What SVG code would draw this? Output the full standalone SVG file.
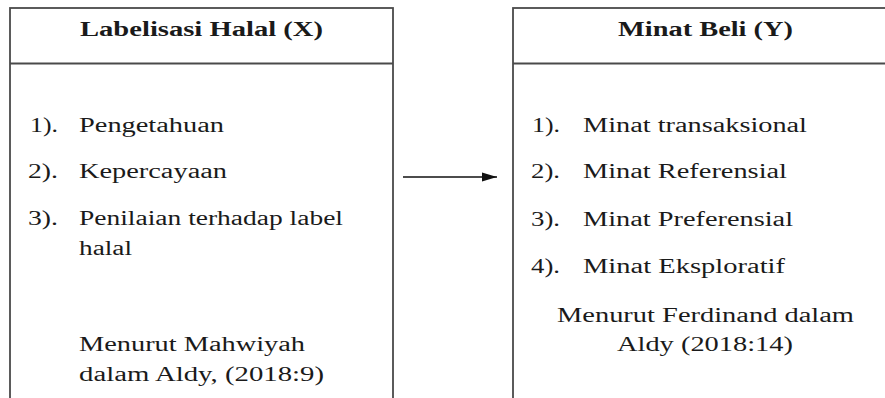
<svg xmlns="http://www.w3.org/2000/svg" width="885" height="398" viewBox="0 0 885 398">
  <style>
    .box { fill: #ffffff; stroke: #4a4a4a; stroke-width: 1.8; }
    .div { stroke: #4a4a4a; stroke-width: 1.8; }
    text { font-family: "Liberation Serif", "Times New Roman", serif; font-size: 20px; fill: #1a1a1a; }
    .title { font-weight: bold; text-anchor: middle; }
    .mid { text-anchor: middle; }
    .conn { stroke: #111111; stroke-width: 1.5; fill: none; }
  </style>
  <defs>
    <marker id="arrow" markerWidth="16" markerHeight="10" refX="15" refY="5" orient="auto" markerUnits="userSpaceOnUse">
      <path d="M0,0.5 L15,5 L0,9.5 Z" fill="#111111"/>
    </marker>
  </defs>
  <rect width="885" height="398" fill="#ffffff"/>

  <g id="node-labelisasi-halal">
    <rect class="box" x="10" y="8" width="383" height="420"/>
    <line class="div" x1="10" y1="63.5" x2="393" y2="63.5"/>
    <text class="title" x="201.5" y="36" textLength="243" lengthAdjust="spacingAndGlyphs">Labelisasi Halal (X)</text>
    <text x="30" y="132" textLength="28" lengthAdjust="spacingAndGlyphs">1).</text>
    <text x="79" y="132" textLength="145" lengthAdjust="spacingAndGlyphs">Pengetahuan</text>
    <text x="28" y="178" textLength="30" lengthAdjust="spacingAndGlyphs">2).</text>
    <text x="79" y="178" textLength="148" lengthAdjust="spacingAndGlyphs">Kepercayaan</text>
    <text x="28" y="225" textLength="30" lengthAdjust="spacingAndGlyphs">3).</text>
    <text x="79" y="225" textLength="264" lengthAdjust="spacingAndGlyphs">Penilaian terhadap label</text>
    <text x="79" y="255" textLength="53" lengthAdjust="spacingAndGlyphs">halal</text>
    <text x="79" y="351" textLength="226" lengthAdjust="spacingAndGlyphs">Menurut Mahwiyah</text>
    <text x="79" y="381" textLength="245" lengthAdjust="spacingAndGlyphs">dalam Aldy, (2018:9)</text>
  </g>

  <g id="node-minat-beli">
    <rect class="box" x="513" y="8" width="385" height="420"/>
    <line class="div" x1="513" y1="63.5" x2="898" y2="63.5"/>
    <text class="title" x="705.5" y="36" textLength="175" lengthAdjust="spacingAndGlyphs">Minat Beli (Y)</text>
    <text x="532" y="132" textLength="28" lengthAdjust="spacingAndGlyphs">1).</text>
    <text x="583" y="132" textLength="224" lengthAdjust="spacingAndGlyphs">Minat transaksional</text>
    <text x="531" y="178" textLength="29" lengthAdjust="spacingAndGlyphs">2).</text>
    <text x="583" y="178" textLength="204" lengthAdjust="spacingAndGlyphs">Minat Referensial</text>
    <text x="531" y="226" textLength="29" lengthAdjust="spacingAndGlyphs">3).</text>
    <text x="583" y="226" textLength="210" lengthAdjust="spacingAndGlyphs">Minat Preferensial</text>
    <text x="531" y="273" textLength="29" lengthAdjust="spacingAndGlyphs">4).</text>
    <text x="583" y="273" textLength="202" lengthAdjust="spacingAndGlyphs">Minat Eksploratif</text>
    <text class="mid" x="705.5" y="322" textLength="297" lengthAdjust="spacingAndGlyphs">Menurut Ferdinand dalam</text>
    <text class="mid" x="705" y="351" textLength="176" lengthAdjust="spacingAndGlyphs">Aldy (2018:14)</text>
  </g>

  <g id="connectors">
    <line class="conn" x1="403" y1="177" x2="497" y2="177" marker-end="url(#arrow)"/>
  </g>
</svg>
